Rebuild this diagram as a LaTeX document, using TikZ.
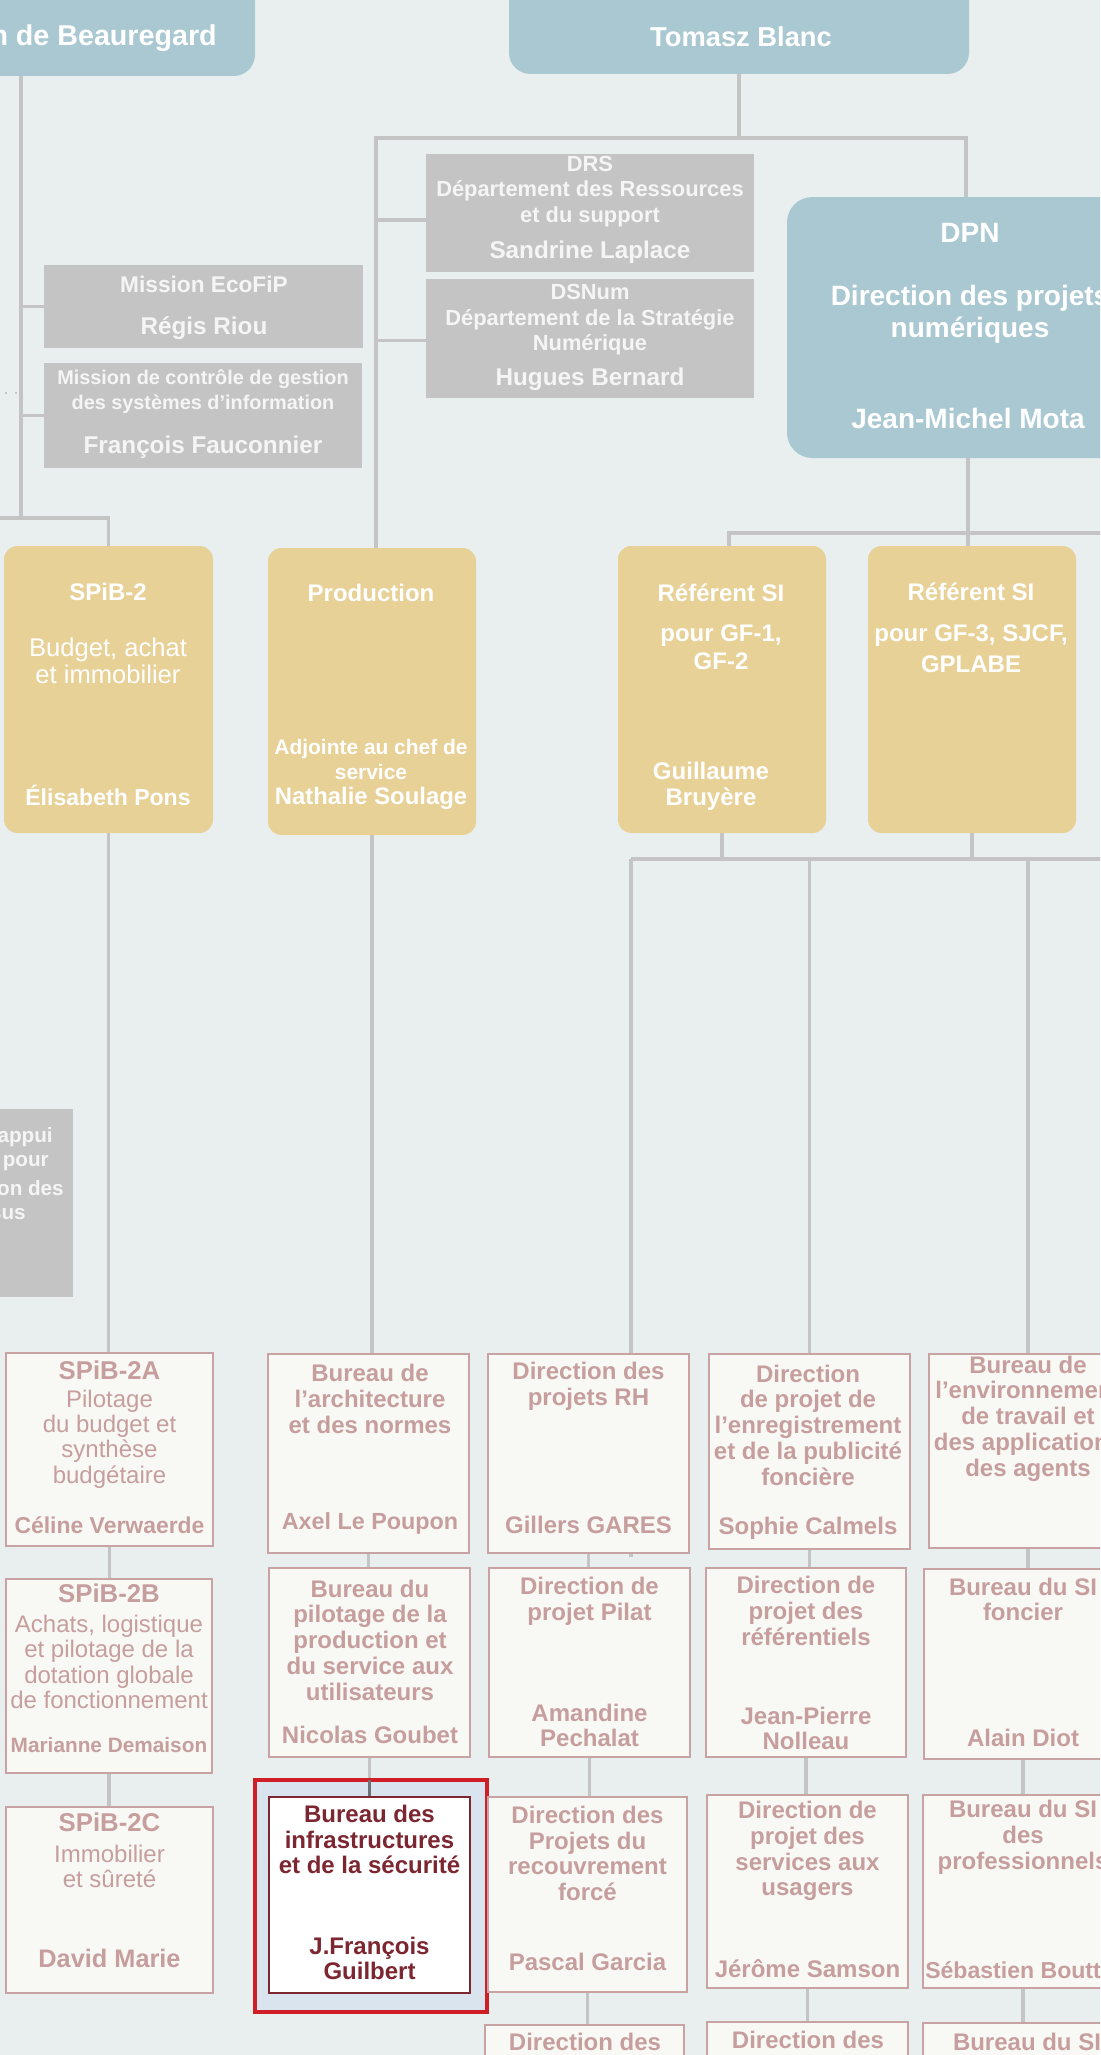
\documentclass[tikz,border=0pt]{standalone}
\usepackage{fontspec}
\setmainfont{Liberation Sans}
\usepackage{tikz}
\usetikzlibrary{fit,calc}

\definecolor{bgcol}{HTML}{E9EFEF}
\definecolor{boxblue}{HTML}{AAC8D2}
\definecolor{boxgray}{HTML}{C4C4C4}
\definecolor{boxyellow}{HTML}{E8D197}
\definecolor{linegray}{HTML}{C4C4C4}
\definecolor{pinkfill}{HTML}{F8F8F4}
\definecolor{pinkline}{HTML}{C9A3A3}
\definecolor{pinktxt}{HTML}{C69E9E}
\definecolor{frameblue}{HTML}{D9E4EE}
\definecolor{framered}{HTML}{D01E26}
\definecolor{darkred}{HTML}{7B2630}
\definecolor{darkline}{HTML}{6E7175}

\newcommand{\orgfs}[2]{\fontsize{#1}{#2}\selectfont}

\begin{document}
\begin{tikzpicture}[x=0.75pt, y=-0.75pt,
    conn/.style={draw=linegray, line width=2.7pt},
    bluebox/.style={fill=boxblue, inner sep=0pt, rounded corners=16pt},
    graybox/.style={fill=boxgray, inner sep=0pt},
    yelbox/.style={fill=boxyellow, inner sep=0pt, rounded corners=10pt},
    pinkbox/.style={draw=pinkline, fill=pinkfill, line width=2pt, inner sep=0pt},
    bluett/.style={text=white, inner sep=0pt, align=center, font=\orgfs{21}{24}\bfseries},
    graytt/.style={text=white!96!black, inner sep=0pt, align=center, font=\orgfs{16.4}{19.1}\bfseries},
    grayname/.style={graytt, font=\orgfs{18.2}{20}\bfseries},
    yeltt/.style={text=white, inner sep=0pt, align=center, font=\orgfs{18}{21}\bfseries},
    yeldesc/.style={yeltt, font=\orgfs{19.2}{20.3}},
    pinktt/.style={text=pinktxt, inner sep=0pt, align=center, font=\orgfs{18}{19.3}\bfseries},
    pinkdesc/.style={pinktt, font=\orgfs{18}{19.1}},
    pinkhead/.style={pinktt, font=\orgfs{19.3}{20}\bfseries},
    infratt/.style={pinktt, text=darkred}
  ]
  \useasboundingbox (0,0) rectangle (1100,2055);
  \clip (0,0) rectangle (1100,2055);
  \fill[bgcol] (0,0) rectangle (1100,2055);

  % junctions
  \coordinate (hubA) at (376,138);
  \coordinate (hubB) at (966,138);
  \coordinate (lcol) at (21,518);
  \coordinate (lout) at (-10,518);
  \coordinate (rhubL) at (729,533);
  \coordinate (rhubR) at (968,533);
  \coordinate (rout) at (1110,533);
  \coordinate (bhubL) at (631,859);
  \coordinate (bout) at (1110,859);
  \coordinate (rhstub) at (631,1557);
  \coordinate (dotL) at (6,393);
  \coordinate (dotR) at (19,393);

  \draw[conn] (bhubL) -- (rhstub);

  % top level
  \node[bluebox, fit={(-300,-60) (255,76)}] (beau) {};
  \node[bluebox, fit={(509,-60) (969,74)}] (tomasz) {};
  \node[bluebox, rounded corners=19pt, fit={(787,197) (1220,458)}] (dpn) {};

  % gray missions
  \node[graybox, fit={(426,154) (754,272)}] (drs) {};
  \node[graybox, fit={(426,279) (754,398)}] (dsnum) {};
  \node[graybox, fit={(44,265) (363,348)}] (ecofip) {};
  \node[graybox, fit={(44,363) (362,468)}] (ctrl) {};
  \node[graybox, fit={(-60,1109) (73,1297)}] (appui) {};

  % yellow
  \node[yelbox, fit={(4,546) (213,833)}] (spib2) {};
  \node[yelbox, fit={(268,548) (476,835)}] (prod) {};
  \node[yelbox, fit={(618,546) (826,833)}] (gf1) {};
  \node[yelbox, fit={(868,546) (1076,833)}] (gf3) {};

  % bureaux
  \node[pinkbox, fit={(6,1353) (213,1546)}] (s2a) {};
  \node[pinkbox, fit={(268,1354) (469,1553)}] (archi) {};
  \node[pinkbox, fit={(488,1354) (689,1553)}] (rh) {};
  \node[pinkbox, fit={(709,1354) (910,1549)}] (enreg) {};
  \node[pinkbox, fit={(929,1354) (1127,1548)}] (env) {};
  \node[pinkbox, fit={(6,1579) (212,1773)}] (s2b) {};
  \node[pinkbox, fit={(269,1568) (470,1757)}] (pilot) {};
  \node[pinkbox, fit={(489,1568) (690,1757)}] (pilat) {};
  \node[pinkbox, fit={(706,1568) (906,1757)}] (refer) {};
  \node[pinkbox, fit={(924,1569) (1122,1759)}] (sifon) {};
  \node[pinkbox, fit={(6,1807) (213,1993)}] (s2c) {};
  \node[draw=framered, fill=frameblue, line width=3.4pt, inner sep=0pt, fit={(255,1780) (487,2012)}] (frame) {};
  \node[draw=darkred, fill=white, line width=2pt, inner sep=0pt, fit={(269,1797) (470,1993)}] (infra) {};
  \node[pinkbox, fit={(488,1797) (687,1992)}] (recouv) {};
  \node[pinkbox, fit={(707,1795) (908,1988)}] (usag) {};
  \node[pinkbox, fit={(923,1795) (1123,1988)}] (sipro) {};
  \node[pinkbox, fit={(485,2025) (684,2120)}] (bot1) {};
  \node[pinkbox, fit={(707,2022) (908,2120)}] (bot2) {};
  \node[pinkbox, fit={(923,2023) (1131,2120)}] (bot3) {};

  % connectors
  \draw[conn] (tomasz.south) -- (tomasz.south |- hubA);
  \draw[conn] (hubA |- prod.north) -- (hubA) -- (hubB) -- (hubB |- dpn.north);
  \draw[conn] ($(drs.west)+(0,7)$) -- ($(drs.west -| hubA)+(0,7)$);
  \draw[conn] ($(dsnum.west)+(0,2)$) -- ($(dsnum.west -| hubA)+(0,2)$);
  \draw[conn] (lcol |- beau.south) -- (lcol) -- (lcol -| spib2.north) -- (spib2.north);
  \draw[conn] (lcol) -- (lout);
  \draw[conn] (lcol |- ecofip.west) -- (ecofip.west);
  \draw[conn] (lcol |- ctrl.west) -- (ctrl.west);
  \draw[linegray!80!black, line width=1.3pt, line cap=round, dash pattern=on 0pt off 7.5pt] (dotL) -- (dotR);
  \draw[conn] (rhubR |- dpn.south) -- (rhubR |- gf3.north);
  \draw[conn] (rhubL |- gf1.north) -- (rhubL) -- (rout);
  \draw[conn] (gf1.south) -- (gf1.south |- bhubL);
  \draw[conn] (gf3.south) -- (gf3.south |- bhubL);
  \draw[conn] (bhubL) -- (bout);
  \draw[conn] (enreg.north |- bhubL) -- (enreg.north);
  \draw[conn] (env.north |- bhubL) -- (env.north);
  \draw[conn] (prod.south) -- (prod.south |- archi.north);
  \draw[conn] (spib2.south) -- (spib2.south |- s2a.north);
  \foreach \a/\b in {s2a/s2b, s2b/s2c, archi/pilot, pilot/frame, rh/pilat, pilat/recouv,
      recouv/bot1, enreg/refer, refer/usag, usag/bot2, env/sifon, sifon/sipro, sipro/bot3}
    \draw[conn] (\a.south) -- (\a.south |- \b.north);
  \draw[conn, draw=darkline] ($(pilot.south |- frame.north)+(0,2)$) -- (pilot.south |- infra.north);

  % texts, top
  \node[bluett, anchor=east, font=\orgfs{21.5}{24}\bfseries] (beau-t) at (217,38) {n de Beauregard};
  \node[bluett, font=\orgfs{20.5}{24}\bfseries] (tomasz-t) at (741,37) {Tomasz Blanc};
  \node[bluett] (dpn-a) at (970,233) {DPN};
  \node[bluett] (dpn-b) at (970,314) {Direction des projets\\numériques};
  \node[bluett] (dpn-c) at (968,418) {Jean-Michel Mota};

  \node[graytt] (drs-t) at (590,191.5) {DRS\\Département des Ressources\\et du support};
  \node[grayname] (drs-n) at (590,252) {Sandrine Laplace};
  \node[graytt] (dsnum-t) at (590,320) {DSNum\\Département de la Stratégie\\Numérique};
  \node[grayname] (dsnum-n) at (590,379) {Hugues Bernard};
  \node[graytt, font=\orgfs{17}{20}\bfseries] (ecofip-t) at (204,284) {Mission EcoFiP};
  \node[grayname] (ecofip-n) at (204,328) {Régis Riou};
  \node[graytt, font=\orgfs{14.9}{18.8}\bfseries] (ctrl-t) at (203,391.5) {Mission de contrôle de gestion\\des systèmes d’information};
  \node[grayname] (ctrl-n) at (203,447) {François Fauconnier};
  \foreach \t/\x/\y [count=\i] in {appui/53/1137, pour/49/1163, on des/64/1188, sus/26/1214}
    \node[graytt, anchor=east, font=\orgfs{15.5}{19}\bfseries] (appui-\i) at (\x,\y) {\t};

  % texts, yellow
  \node[yeltt] (spib2-a) at (108,592) {SPiB-2};
  \node[yeldesc] (spib2-b) at (108,660.5) {Budget, achat\\et immobilier};
  \node[yeltt, font=\orgfs{17.3}{20}\bfseries] (spib2-c) at (108,795) {Élisabeth Pons};
  \node[yeltt] (prod-a) at (371,593) {Production};
  \node[yeltt, font=\orgfs{15.7}{18.8}\bfseries] (prod-b) at (371,759.5) {Adjointe au chef de\\service};
  \node[yeltt, font=\orgfs{17.9}{20}\bfseries] (prod-c) at (371,798) {Nathalie Soulage};
  \node[yeltt] (gf1-a) at (721,593) {Référent SI};
  \node[yeltt] (gf1-b) at (721,647) {pour GF-1,\\GF-2};
  \node[yeltt, font=\orgfs{18}{19.5}\bfseries] (gf1-c) at (711,786) {Guillaume\\Bruyère};
  \node[yeltt] (gf3-a) at (971,592) {Référent SI};
  \node[yeltt, font=\orgfs{18}{23}\bfseries] (gf3-b) at (971,648.5) {pour GF-3, SJCF,\\GPLABE};

  % texts, bureaux
  \node[pinkhead] (s2a-a) at (109.5,1370) {SPiB-2A};
  \node[pinkdesc] (s2a-b) at (109.5,1439) {Pilotage\\du budget et\\synthèse\\budgétaire};
  \node[pinktt, font=\orgfs{17.2}{19}\bfseries] (s2a-c) at (109.5,1525) {Céline Verwaerde};
  \node[pinktt] (archi-a) at (370,1399) {Bureau de\\l’architecture\\et des normes};
  \node[pinktt, font=\orgfs{17.5}{19}\bfseries] (archi-c) at (370,1523) {Axel Le Poupon};
  \node[pinktt] (rh-a) at (588.5,1386) {Direction des\\projets RH};
  \node[pinktt] (rh-c) at (588.5,1525) {Gillers GARES};
  \node[pinktt] (enreg-a) at (808,1425) {Direction\\de projet de\\l’enregistrement\\et de la publicité\\foncière};
  \node[pinktt] (enreg-c) at (808,1528) {Sophie Calmels};
  \node[pinktt] (env-a) at (1028,1418.5) {Bureau de\\l’environnement\\de travail et\\des applications\\des agents};

  \node[pinkhead] (s2b-a) at (109,1593) {SPiB-2B};
  \node[pinkdesc] (s2b-b) at (109,1662) {Achats, logistique\\et pilotage de la\\dotation globale\\de fonctionnement};
  \node[pinktt, font=\orgfs{15.6}{18}\bfseries] (s2b-c) at (109,1745) {Marianne Demaison};
  \node[pinktt] (pilot-a) at (370,1640) {Bureau du\\pilotage de la\\production et\\du service aux\\utilisateurs};
  \node[pinktt] (pilot-c) at (370,1735) {Nicolas Goubet};
  \node[pinktt] (pilat-a) at (589.5,1601.5) {Direction de\\projet Pilat};
  \node[pinktt] (pilat-c) at (589.5,1725.5) {Amandine\\Pechalat};
  \node[pinktt] (refer-a) at (806,1611) {Direction de\\projet des\\référentiels};
  \node[pinktt] (refer-c) at (806,1728.5) {Jean-Pierre\\Nolleau};
  \node[pinktt] (sifon-a) at (1023,1599.5) {Bureau du SI\\foncier};
  \node[pinktt] (sifon-c) at (1023,1738) {Alain Diot};

  \node[pinkhead] (s2c-a) at (109.5,1822) {SPiB-2C};
  \node[pinkdesc] (s2c-b) at (109.5,1866.5) {Immobilier\\et sûreté};
  \node[pinktt, font=\orgfs{19}{20}\bfseries] (s2c-c) at (109.5,1958) {David Marie};
  \node[infratt] (infra-a) at (369.5,1839.5) {Bureau des\\infrastructures\\et de la sécurité};
  \node[infratt] (infra-c) at (369.5,1958.5) {J.François\\Guilbert};
  \node[pinktt] (recouv-a) at (587.5,1853.5) {Direction des\\Projets du\\recouvrement\\forcé};
  \node[pinktt] (recouv-c) at (587.5,1962) {Pascal Garcia};
  \node[pinktt] (usag-a) at (807.5,1851) {Direction de\\projet des\\services aux\\usagers};
  \node[pinktt] (usag-c) at (807.5,1969) {Jérôme Samson};
  \node[pinktt] (sipro-a) at (1023,1837.5) {Bureau du SI\\des\\professionnels};
  \node[pinktt, anchor=west, font=\orgfs{17.3}{19}\bfseries] (sipro-c) at (925,1970) {Sébastien Boutti};

  \node[pinktt] (bot1-a) at (585,2042) {Direction des};
  \node[pinktt] (bot2-a) at (808,2040) {Direction des};
  \node[pinktt] (bot3-a) at (1027,2042) {Bureau du SI};
\end{tikzpicture}
\end{document}
